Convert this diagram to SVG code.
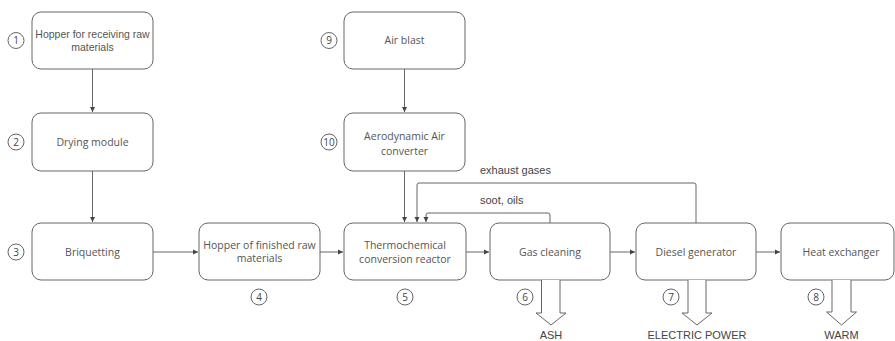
<svg xmlns="http://www.w3.org/2000/svg" width="895" height="341" viewBox="0 0 895 341">
<style>
.box{fill:#fff;stroke:#666;stroke-width:1}
.t{font-family:"Open Sans","Liberation Sans",sans-serif;font-size:10.5px;fill:#555;text-anchor:middle}
.ta{font-family:"Liberation Sans",Arial,sans-serif;font-size:10.5px;fill:#555;text-anchor:middle}
.num{fill:#fff;stroke:#666;stroke-width:1}
.nt{font-family:"Open Sans","Liberation Sans",sans-serif;font-size:10px;fill:#444;text-anchor:middle}
.lbl{font-family:"Liberation Sans",Arial,sans-serif;font-size:11px;fill:#444}
.out{font-family:"Liberation Sans",Arial,sans-serif;font-size:11px;fill:#444;text-anchor:middle}
.c{fill:none;stroke:#666;stroke-width:1}
.blk{fill:#fff;stroke:#666;stroke-width:1}
</style>
<defs>
<marker id="ah" markerWidth="6" markerHeight="6" refX="5" refY="3" orient="auto" markerUnits="userSpaceOnUse">
<path d="M0,0.5 L5,3 L0,5.5 Z" fill="#444"/>
</marker>
</defs>
<rect width="895" height="341" fill="#fff"/>
<g id="connectors">
<path class="c" d="M92.5,69 V112" marker-end="url(#ah)"/>
<path class="c" d="M92.5,171 V222" marker-end="url(#ah)"/>
<path class="c" d="M153,252 H198" marker-end="url(#ah)"/>
<path class="c" d="M320,252 H343" marker-end="url(#ah)"/>
<path class="c" d="M466,252 H489" marker-end="url(#ah)"/>
<path class="c" d="M610,252 H635" marker-end="url(#ah)"/>
<path class="c" d="M756,252 H780" marker-end="url(#ah)"/>
<path class="c" d="M404.5,69 V112" marker-end="url(#ah)"/>
<path class="c" d="M404.5,171 V222" marker-end="url(#ah)"/>
<path class="c" d="M696,223 V185 Q696,183 694,183 H419 Q417,183 417,185 V222" marker-end="url(#ah)"/>
<path class="c" d="M550,223 V215 Q550,213 548,213 H428 Q426,213 426,215 V222" marker-end="url(#ah)"/>
<text class="lbl" x="480" y="174">exhaust gases</text>
<text class="lbl" x="480" y="204">soot, oils</text>
</g>
<g id="n1">
<rect class="box" x="32" y="12" width="121" height="57" rx="9"/>
<text class="ta" x="92.5" y="38">Hopper for receiving raw</text>
<text class="ta" x="92.5" y="51">materials</text>
<circle class="num" cx="16" cy="40.5" r="8"/><text class="nt" x="16" y="44">1</text>
</g>
<g id="n2">
<rect class="box" x="32" y="113" width="121" height="58" rx="9"/>
<text class="t" x="92.5" y="146">Drying module</text>
<circle class="num" cx="16" cy="142" r="8"/><text class="nt" x="16" y="145.5">2</text>
</g>
<g id="n3">
<rect class="box" x="32" y="223" width="121" height="57" rx="9"/>
<text class="t" x="92.5" y="256">Briquetting</text>
<circle class="num" cx="16" cy="252" r="8"/><text class="nt" x="16" y="255.5">3</text>
</g>
<g id="n4">
<rect class="box" x="199" y="223" width="121" height="57" rx="9"/>
<text class="t" x="259.5" y="248.5">Hopper of finished raw</text>
<text class="t" x="259.5" y="262">materials</text>
<circle class="num" cx="259" cy="297" r="8"/><text class="nt" x="259" y="300.5">4</text>
</g>
<g id="n5">
<rect class="box" x="344" y="223" width="122" height="57" rx="9"/>
<text class="t" x="405" y="248.5">Thermochemical</text>
<text class="t" x="405" y="262.5">conversion reactor</text>
<circle class="num" cx="405" cy="297" r="8"/><text class="nt" x="405" y="300.5">5</text>
</g>
<g id="n6">
<rect class="box" x="490" y="223" width="120" height="57" rx="9"/>
<text class="t" x="550" y="256">Gas cleaning</text>
<circle class="num" cx="525" cy="297" r="8"/><text class="nt" x="525" y="300.5">6</text>
<path class="blk" d="M541.5,280 V313 H536 L551,325 L566,313 H560 V280"/>
<text class="out" x="551" y="339">ASH</text>
</g>
<g id="n7">
<rect class="box" x="636" y="223" width="120" height="57" rx="9"/>
<text class="t" x="696" y="256">Diesel generator</text>
<circle class="num" cx="671" cy="297" r="8"/><text class="nt" x="671" y="300.5">7</text>
<path class="blk" d="M688,280 V313 H682 L697,325 L712,313 H706 V280"/>
<text class="out" x="697" y="339">ELECTRIC POWER</text>
</g>
<g id="n8">
<rect class="box" x="781" y="223" width="113" height="57" rx="9"/>
<text class="t" x="841" y="256">Heat exchanger</text>
<circle class="num" cx="816" cy="297" r="8"/><text class="nt" x="816" y="300.5">8</text>
<path class="blk" d="M832,280 V312 H826.5 L841.5,325 L856.5,312 H851 V280"/>
<text class="out" x="841.5" y="339">WARM</text>
</g>
<g id="n9">
<rect class="box" x="344" y="12" width="121" height="57" rx="9"/>
<text class="t" x="404.5" y="44">Air blast</text>
<circle class="num" cx="329" cy="40.5" r="8"/><text class="nt" x="329" y="44">9</text>
</g>
<g id="n10">
<rect class="box" x="344" y="113" width="121" height="58" rx="9"/>
<text class="t" x="404.5" y="140">Aerodynamic Air</text>
<text class="t" x="404.5" y="154.5">converter</text>
<circle class="num" cx="329" cy="142" r="8"/><text class="nt" x="329" y="145.5">10</text>
</g>
</svg>
